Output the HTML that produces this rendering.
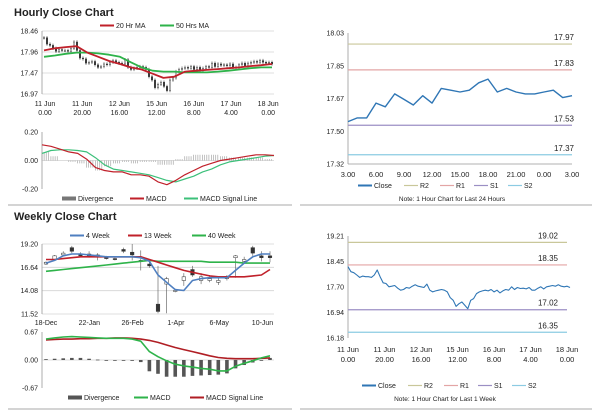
<!DOCTYPE html>
<html><head><meta charset="utf-8">
<style>
body{margin:0;background:#fff;width:600px;height:413px;overflow:hidden;font-family:"Liberation Sans",sans-serif}
svg text{font-family:"Liberation Sans",sans-serif;fill:#222}
</style></head>
<body>
<svg id="c" width="600" height="413">
<text x="14" y="16" font-size="11" font-weight="bold">Hourly Close Chart</text>
<text x="14" y="220" font-size="11" font-weight="bold">Weekly Close Chart</text>
<line x1="8" y1="205" x2="292" y2="205" stroke="#aaa"/>
<line x1="300" y1="205" x2="592" y2="205" stroke="#aaa"/>
<line x1="8" y1="409" x2="292" y2="409" stroke="#aaa"/>
<line x1="300" y1="409" x2="592" y2="409" stroke="#aaa"/>
</svg>
<script>
// Hourly 1-week closes
const weekCloses=[18.30,18.15,18.12,18.05,17.98,18.02,18.00,18.00,17.98,18.05,18.20,18.00,17.82,17.80,17.70,17.72,17.74,17.66,17.60,17.62,17.68,17.66,17.72,17.76,17.72,17.70,17.68,17.78,17.60,17.55,17.58,17.60,17.62,17.60,17.55,17.38,17.30,17.12,17.20,17.25,17.15,17.05,17.30,17.35,17.50,17.55,17.58,17.60,17.58,17.62,17.55,17.60,17.52,17.58,17.62,17.60,17.70,17.62,17.68,17.65,17.66,17.64,17.68,17.60,17.60,17.66,17.70,17.64,17.70,17.72,17.74,17.72,17.76,17.72,17.70,17.72,17.68];
const ma20=[18.00,18.05,18.08,18.10,17.95,17.85,17.75,17.68,17.60,17.55,17.45,17.35,17.38,17.50,17.52,17.54,17.56,17.58,17.60,17.63,17.65,17.68];
const ma50=[17.85,17.88,17.92,17.95,17.95,17.93,17.90,17.85,17.72,17.60,17.52,17.50,17.50,17.48,17.48,17.48,17.50,17.52,17.55,17.58,17.60,17.60];
const hTicks=["18.46","17.96","17.47","16.97"];
const hXLabels=[["11 Jun","0.00"],["11 Jun","20.00"],["12 Jun","16.00"],["15 Jun","12.00"],["16 Jun","8.00"],["17 Jun","4.00"],["18 Jun","0.00"]];
const hMacd=[0.11,0.10,0.08,0.06,0.05,0.01,-0.05,-0.07,-0.08,-0.08,-0.10,-0.10,-0.11,-0.15,-0.17,-0.14,-0.10,-0.07,-0.04,-0.02,0.00,0.01,0.02,0.03,0.04,0.04,0.035];
const hSignal=[0.05,0.07,0.075,0.075,0.07,0.06,0.02,-0.03,-0.06,-0.07,-0.08,-0.09,-0.10,-0.12,-0.14,-0.15,-0.13,-0.11,-0.08,-0.06,-0.03,-0.01,0.00,0.01,0.02,0.03,0.035];
const hDiv=[0.06,0.03,0.00,-0.01,-0.02,-0.05,-0.07,-0.04,-0.02,-0.01,-0.02,-0.01,-0.01,-0.03,-0.03,0.01,0.03,0.04,0.04,0.04,0.03,0.02,0.02,0.02,0.02,0.01,0.00];
const macdTicks=["0.20","0.00","-0.20"];
// Last 24h
const dayCloses=[17.55,17.57,17.57,17.65,17.63,17.70,17.67,17.64,17.69,17.65,17.73,17.72,17.71,17.72,17.76,17.78,17.71,17.73,17.71,17.70,17.70,17.71,17.72,17.68,17.69];
const dayLevels=[17.97,17.83,17.53,17.37];
const dayTicks=["18.03","17.85","17.67","17.50","17.32"];
const dayXLabels=["3.00","6.00","9.00","12.00","15.00","18.00","21.00","0.00","3.00"];
const weekLevels=[19.02,18.35,17.02,16.35];
const weekTicks=["19.21","18.45","17.70","16.94","16.18"];
// Weekly candles
const wOpen=[17.0,17.5,18.0,18.8,18.1,18.1,18.0,17.8,17.6,18.6,18.3,17.4,17.0,12.6,14.8,14.0,15.2,16.4,15.2,15.2,15.0,15.4,17.7,17.3,18.8,17.9,17.9];
const wClose=[17.2,17.9,18.2,18.4,17.9,17.9,17.8,17.6,17.5,18.4,18.0,17.3,16.8,11.8,15.4,14.1,15.6,15.8,15.6,15.4,15.2,15.6,17.9,17.5,18.2,17.7,17.7];
const wHigh=[17.3,18.0,18.4,19.0,18.3,18.4,18.2,17.9,17.7,18.8,19.2,18.5,17.2,16.8,15.6,14.3,16.0,16.8,16.0,15.8,15.6,15.8,18.0,17.8,19.0,18.4,18.4];
const wLow=[16.9,17.4,17.9,18.2,17.8,17.7,17.4,17.5,17.4,18.2,17.4,16.3,16.6,11.6,11.6,13.9,14.6,15.6,14.8,15.0,14.7,15.2,15.5,17.2,17.9,17.3,17.2];
const w4=[17.1,17.4,17.9,18.1,18.1,18.0,17.9,17.8,17.8,17.8,17.8,17.7,17.3,15.8,15.0,14.2,14.1,15.2,15.4,15.5,15.5,15.5,16.3,17.1,17.8,18.1,18.1];
const w13=[17.5,17.5,17.6,17.7,17.8,17.8,17.8,17.8,17.8,17.8,17.8,17.8,17.5,17.2,16.9,16.6,16.3,16.1,15.9,15.7,15.6,15.6,15.6,15.6,15.7,15.8,16.4];
const w40=[16.2,16.3,16.4,16.5,16.6,16.7,16.8,16.9,17.0,17.1,17.2,17.3,17.4,17.3,17.3,17.3,17.3,17.3,17.3,17.2,17.2,17.2,17.2,17.1,17.1,17.1,17.1];
const wTicks=["19.20","16.64","14.08","11.52"];
const wXLabels=["18-Dec","22-Jan","26-Feb","1-Apr","6-May","10-Jun"];
const wMacd=[0.50,0.53,0.55,0.56,0.55,0.54,0.53,0.52,0.52,0.52,0.50,0.45,0.20,0.08,-0.02,-0.10,-0.14,-0.17,-0.20,-0.22,-0.26,-0.26,-0.15,-0.08,-0.02,0.05,0.10];
const wSignal=[0.48,0.49,0.50,0.50,0.51,0.51,0.52,0.52,0.53,0.53,0.52,0.50,0.47,0.42,0.36,0.30,0.25,0.20,0.15,0.10,0.06,0.04,0.03,0.03,0.03,0.04,0.05];
const wDiv=[0.02,0.03,0.04,0.05,0.05,0.03,0.01,0.00,0.00,-0.01,-0.02,-0.05,-0.27,-0.33,-0.40,-0.40,-0.40,-0.38,-0.37,-0.36,-0.35,-0.32,-0.20,-0.12,-0.06,0.00,0.05];
const wMacdTicks=["0.67","0.00","-0.67"];

const NS="http://www.w3.org/2000/svg";
const svg=document.getElementById('c');
function mk(tag,attrs,parent){const e=document.createElementNS(NS,tag);for(const k in attrs)e.setAttribute(k,attrs[k]);(parent||svg).appendChild(e);return e;}
function txt(x,y,s,size,anchor,name){const t=mk('text',{x:x,y:y,'font-size':size,'text-anchor':anchor||'start'});t.textContent=s;


return t;}
function scale(d0,d1,r0,r1){return v=>r0+(v-d0)/(d1-d0)*(r1-r0);}
function axesY(ticks,x0,x1,yTop,yBot,prefix,grid){const n=ticks.length;ticks.forEach((t,i)=>{const y=yTop+(yBot-yTop)*i/(n-1);
if(grid){const g=mk('line',{x1:x0,x2:x1,y1:y,y2:y,stroke:'#d4d4d4','stroke-width':0.8});

}
txt(x0-4,y+2.5,t,7,'end',prefix+'-y-tick');});
const a=mk('line',{x1:x0,x2:x0,y1:yTop,y2:yBot,stroke:'#999','stroke-width':0.8});

}
function line(vals,xs,ys,color,w,name){const p=vals.map((v,i)=>xs(i).toFixed(1)+','+ys(v).toFixed(1)).join(' ');
const l=mk('polyline',{points:p,fill:'none',stroke:color,'stroke-width':w,'stroke-linejoin':'round'});

}
function legend(items,y){items.forEach(it=>{const l=mk('line',{x1:it[0],x2:it[0]+14,y1:y-2.5,y2:y-2.5,stroke:it[2],'stroke-width':it[3]||2});


txt(it[0]+16,y,it[1],7,'start','legend-entry');});}

// ---- Panel 1: hourly candles
{const x0=42,x1=274,yT=31,yB=94;axesY(hTicks,x0,x1,yT,yB,'hourly',true);
const ys=scale(18.46,16.97,yT,yB);const n=weekCloses.length;const xs=i=>44+i*(272-44)/(n-1);
weekCloses.forEach((c,i)=>{const o=i?weekCloses[i-1]:c;const x=xs(i);
const w=mk('line',{x1:x,x2:x,y1:ys(Math.max(o,c)+0.04),y2:ys(Math.min(o,c)-0.04),stroke:'#333','stroke-width':0.6});


const b=mk('rect',{x:x-0.8,y:ys(Math.max(o,c)),width:1.6,height:Math.max(0.8,Math.abs(ys(o)-ys(c))),fill:c<o?'#333':'#fff',stroke:'#333','stroke-width':0.4});

});
const mx=i=>44+i*(272-44)/(ma20.length-1);
line(ma50,mx,ys,'#2eb34a',1.8,'ma50-line');line(ma20,mx,ys,'#c0202a',1.8,'ma20-line');
hXLabels.forEach((l,i)=>{const x=45+i*37.2;txt(x,106,l[0],7,'middle','hourly-x-tick');txt(x,115,l[1],7,'middle','hourly-x-tick');});
legend([[100,'20 Hr MA','#c0202a'],[160,'50 Hrs MA','#2eb34a']],28);}

// ---- Panel 2: hourly MACD
{const x0=42,x1=274,yT=132,yB=189;axesY(macdTicks,x0,x1,yT,yB,'hourly-macd',false);
const ys=scale(0.2,-0.2,yT,yB);const n=hMacd.length;const xs=i=>42+i*(274-42)/(n-1);
const z=mk('line',{x1:x0,x2:x1,y1:ys(0),y2:ys(0),stroke:'#bbb','stroke-width':0.6});


hDiv.forEach((d,i)=>{for(let k=0;k<4;k++){const x=xs(i)+k*2.1;const b=mk('line',{x1:x,x2:x,y1:ys(0),y2:ys(d),stroke:'#999','stroke-width':0.6});

}});
line(hSignal,xs,ys,'#3cc07a',1.2,'hourly-macd-signal');line(hMacd,xs,ys,'#c0202a',1.2,'hourly-macd-line');
legend([[62,'Divergence','#777',4],[130,'MACD','#c0202a'],[184,'MACD Signal Line','#3cc07a']],201);}

// ---- Panel 3: last 24 hours
{const x0=348,x1=572,yT=33,yB=164;axesY(dayTicks,x0,x1,yT,yB,'day',false);
const ys=scale(18.03,17.32,yT,yB);const xs=i=>348+i*224/(dayCloses.length-1);
const cols=['#c9c79a','#e3a5a5','#9b8fc4','#8ccbe3'];
dayLevels.forEach((v,i)=>{const l=mk('line',{x1:x0,x2:x1,y1:ys(v),y2:ys(v),stroke:cols[i],'stroke-width':1.2});


txt(564,ys(v)-4,v.toFixed(2),8,'middle','day-level-label');});
const ax=mk('line',{x1:x0,x2:x1,y1:yB,y2:yB,stroke:'#999','stroke-width':0.8});


line(dayCloses,xs,ys,'#2f76b5',1.4,'day-close-line');
dayXLabels.forEach((l,i)=>txt(348+i*28,177,l,7.5,'middle','day-x-tick'));
legend([[358,'Close','#2f76b5'],[404,'R2','#c9c79a',1.2],[440,'R1','#e3a5a5',1.2],[474,'S1','#9b8fc4',1.2],[508,'S2','#8ccbe3',1.2]],188);
txt(452,201,'Note: 1 Hour Chart for Last 24 Hours',6.5,'middle','day-note');}

// ---- Panel 4: weekly candles
{const x0=42,x1=274,yT=244,yB=314;axesY(wTicks,x0,x1,yT,yB,'weekly',true);
const ys=scale(19.20,11.52,yT,yB);const xs=i=>46+i*(270-46)/(wOpen.length-1);
wOpen.forEach((o,i)=>{const c=wClose[i],x=xs(i);
const w=mk('line',{x1:x,x2:x,y1:ys(wHigh[i]),y2:ys(wLow[i]),stroke:'#555','stroke-width':0.6});


const b=mk('rect',{x:x-1.8,y:ys(Math.max(o,c)),width:3.6,height:Math.max(1,Math.abs(ys(o)-ys(c))),fill:c<o?'#333':'#fff',stroke:'#333','stroke-width':0.5});

});
line(w40,xs,ys,'#2eb34a',1.6,'week40-line');line(w13,xs,ys,'#c0202a',1.6,'week13-line');line(w4,xs,ys,'#4f7fc0',1.6,'week4-line');
wXLabels.forEach((l,i)=>txt(46+i*43.3,325,l,7,'middle','weekly-x-tick'));
legend([[70,'4 Week','#4f7fc0'],[128,'13 Week','#c0202a'],[192,'40 Week','#2eb34a']],238);}

// ---- Panel 5: weekly MACD
{const x0=42,x1=274,yT=332,yB=388;axesY(wMacdTicks,x0,x1,yT,yB,'weekly-macd',false);
const ys=scale(0.67,-0.67,yT,yB);const xs=i=>46+i*(270-46)/(wMacd.length-1);
const z=mk('line',{x1:x0,x2:x1,y1:ys(0),y2:ys(0),stroke:'#bbb','stroke-width':0.6});


wDiv.forEach((d,i)=>{const b=mk('rect',{x:xs(i)-1.8,y:Math.min(ys(0),ys(d)),width:3.6,height:Math.max(0.8,Math.abs(ys(d)-ys(0))),fill:'#555'});

});
line(wSignal,xs,ys,'#b01e24',1.6,'weekly-macd-signal');line(wMacd,xs,ys,'#2eb34a',1.6,'weekly-macd-line');
legend([[68,'Divergence','#555',4],[134,'MACD','#2eb34a'],[190,'MACD Signal Line','#b01e24']],400);}

// ---- Panel 6: last week
{const x0=348,x1=572,yT=236,yB=338;axesY(weekTicks,x0,x1,yT,yB,'week',false);
const ys=scale(19.21,16.18,yT,yB);const xs=i=>348+i*(570-348)/(weekCloses.length-1);
const cols=['#c9c79a','#e3a5a5','#9b8fc4','#8ccbe3'];
weekLevels.forEach((v,i)=>{const l=mk('line',{x1:x0,x2:567,y1:ys(v),y2:ys(v),stroke:cols[i],'stroke-width':1.2});


txt(548,ys(v)-4,v.toFixed(2),8,'middle','week-level-label');});
line(weekCloses,xs,ys,'#2f76b5',1.1,'week-close-line');
hXLabels.forEach((l,i)=>{const x=348+i*36.5;txt(x,352,l[0],7.5,'middle','week-x-tick');txt(x,362,l[1],7.5,'middle','week-x-tick');});
legend([[362,'Close','#2f76b5'],[408,'R2','#c9c79a',1.2],[444,'R1','#e3a5a5',1.2],[478,'S1','#9b8fc4',1.2],[512,'S2','#8ccbe3',1.2]],388);
txt(445,401,'Note: 1 Hour Chart for Last 1 Week',6.5,'middle','week-note');}
</script>
</body></html>
